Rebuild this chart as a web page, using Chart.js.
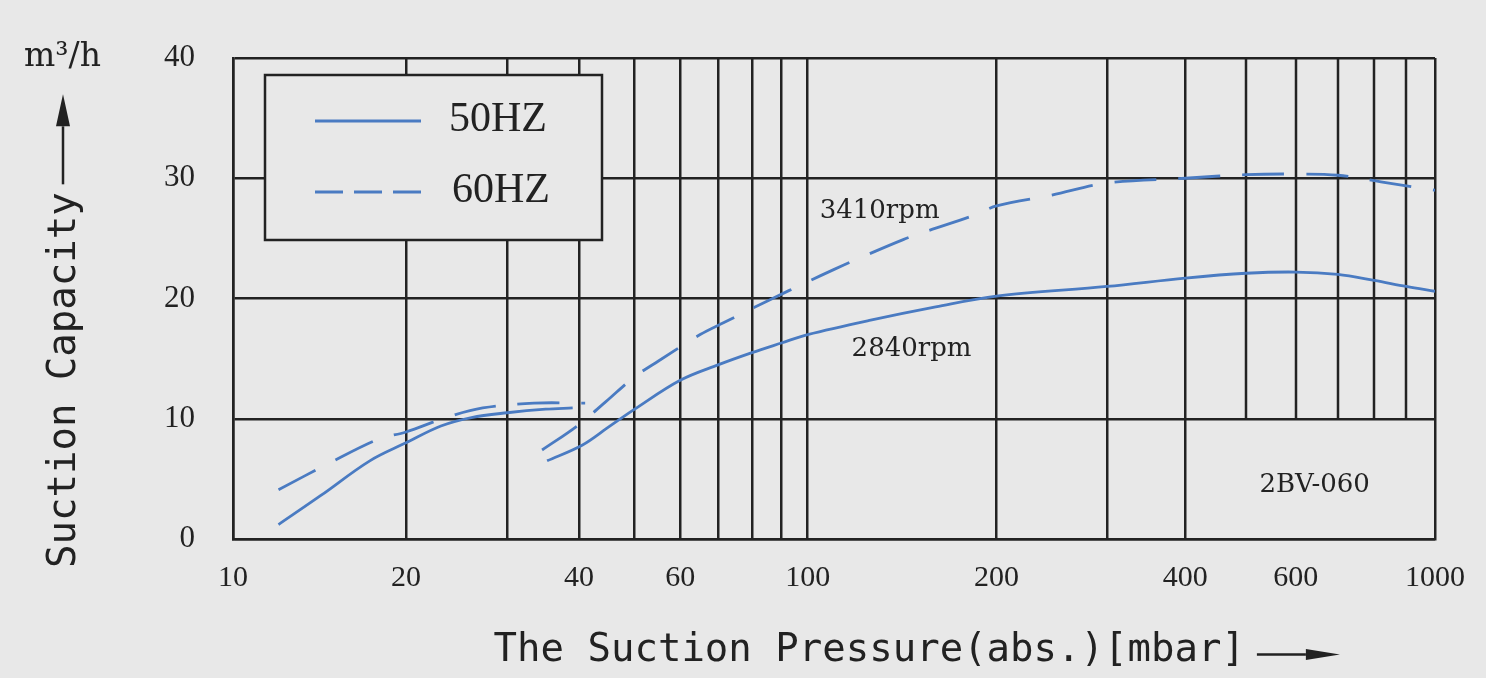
<!DOCTYPE html>
<html>
<head>
<meta charset="utf-8">
<script src="https://cdn.jsdelivr.net/npm/chart.js@4/dist/chart.umd.min.js"></script>
<style>
  html, body { margin: 0; padding: 0; background: #e8e8e8; overflow: hidden; }
  canvas { display: block; }
</style>
</head>
<body>
<canvas id="c" width="1486" height="678"></canvas>
<script>
// ---------------- data ----------------
// 50 HZ (solid) – low-pressure piece and main piece
const pressure50a = [12, 14.2, 17.3, 20, 23, 26, 30, 35, 39];
const capacity50a = [1.2, 3.6, 6.5, 8.0, 9.4, 10.1, 10.5, 10.8, 10.9];
const pressure50b = [35.2, 40.5, 45, 50, 60, 70, 80, 90, 100, 126, 160, 200, 300, 400, 500, 600, 700, 800, 900, 1000];
const capacity50b = [6.5, 7.8, 9.3, 10.8, 13.2, 14.5, 15.5, 16.3, 17.0, 18.2, 19.3, 20.2, 21.0, 21.7, 22.1, 22.2, 22.0, 21.5, 21.0, 20.6];
// 60 HZ (dashed)
const pressure60a = [12, 14.7, 17.9, 20, 23.5, 27.2, 33.4, 41];
const capacity60a = [4.1, 6.3, 8.3, 8.9, 10.1, 10.9, 11.3, 11.3];
const pressure60b = [34.5, 39.7, 44.5, 50, 55, 65, 71.5, 86, 100, 110, 119, 142, 155, 186, 200, 245, 300, 400, 500, 600, 700, 820, 1000];
const capacity60b = [7.4, 9.4, 11.4, 13.5, 14.8, 17.0, 18.0, 19.9, 21.4, 22.4, 23.2, 24.9, 25.6, 27.0, 27.7, 28.6, 29.6, 30.0, 30.3, 30.35, 30.25, 29.7, 29.0];

const seriesLabels = ['50HZ', '60HZ'];
const gridPressures = [10, 20, 30, 40, 50, 60, 70, 80, 90, 100, 200, 300, 400, 500, 600, 700, 800, 900, 1000];
const labelledPressures = [10, 20, 40, 60, 100, 200, 400, 600, 1000];
const partialGridPressures = [500, 600, 700, 800, 900];
const capacityTicks = [0, 10, 20, 30, 40];

const xTitle = 'The Suction Pressure(abs.)[mbar]';
const yTitle = 'Suction Capacity';
const unitLabel = 'm\u00B3/h';
const notes = [
  { text: '3410rpm', p: 104.5, q: 26.7 },
  { text: '2840rpm', p: 117.5, q: 15.25 },
  { text: '2BV-060', p: 525, q: 3.87 }
];

// ---------------- styles ----------------
const INK = '#222222';
const BLUE = '#4a7bc2';
const BG = '#e8e8e8';
const NBSP = '\u00A0';
const GRID_W = 2.5;

// The printed chart's decades are not equally wide: 10-100 uses ~47.8 % of the axis.
const decadeBounds = [10, 100, 1000];
const decadeShares = [0, 0.4781, 1];

const LogScale = Chart.LogarithmicScale || Chart.registry.getScale('logarithmic');
class SplitLogScale extends LogScale {
  getPixelForValue(value) {
    if (value === undefined || value === 0) value = this.min;
    if (value === null || isNaN(value)) return NaN;
    const lv = Math.log10(value);
    let i = 0;
    while (i < decadeBounds.length - 2 && lv > Math.log10(decadeBounds[i + 1])) i++;
    const l0 = Math.log10(decadeBounds[i]), l1 = Math.log10(decadeBounds[i + 1]);
    const dec = decadeShares[i] + (lv - l0) / (l1 - l0) * (decadeShares[i + 1] - decadeShares[i]);
    return this.getPixelForDecimal(dec);
  }
  getValueForPixel(pixel) {
    const d = this.getDecimalForPixel(pixel);
    let i = 0;
    while (i < decadeShares.length - 2 && d > decadeShares[i + 1]) i++;
    const l0 = Math.log10(decadeBounds[i]), l1 = Math.log10(decadeBounds[i + 1]);
    const lv = l0 + (d - decadeShares[i]) / (decadeShares[i + 1] - decadeShares[i]) * (l1 - l0);
    return Math.pow(10, lv);
  }
}
SplitLogScale.id = 'splitLog';
SplitLogScale.defaults = {};
Chart.register(SplitLogScale);

function joinSegments(pa, qa, pb, qb) {
  const out = pa.map((p, i) => ({ x: p, y: qa[i] }));
  out.push({ x: pb[0], y: null });
  return out.concat(pb.map((p, i) => ({ x: p, y: qb[i] })));
}

function arrow(ctx, x1, y1, x2, y2, head, halfW) {
  const ang = Math.atan2(y2 - y1, x2 - x1);
  const bx = x2 - head * Math.cos(ang), by = y2 - head * Math.sin(ang);
  ctx.beginPath(); ctx.moveTo(x1, y1); ctx.lineTo(bx, by); ctx.stroke();
  ctx.beginPath();
  ctx.moveTo(x2, y2);
  ctx.lineTo(bx + halfW * Math.sin(ang), by - halfW * Math.cos(ang));
  ctx.lineTo(bx - halfW * Math.sin(ang), by + halfW * Math.cos(ang));
  ctx.closePath(); ctx.fill();
}

const X_TITLE_FONT = { family: 'DejaVu Sans Mono', size: 39 };
const X_TITLE_PAD = 4;

const decor = {
  id: 'decor',
  beforeDraw(chart) {
    const { ctx, width, height } = chart;
    ctx.save(); ctx.fillStyle = BG; ctx.fillRect(0, 0, width, height); ctx.restore();
  },
  beforeDatasetsDraw(chart) {
    const { ctx, scales: { x, y } } = chart;
    ctx.save();
    ctx.strokeStyle = INK; ctx.lineWidth = GRID_W;
    partialGridPressures.forEach(p => {
      const px = Math.round(x.getPixelForValue(p));
      ctx.beginPath();
      ctx.moveTo(px, y.getPixelForValue(capacityTicks[4]));
      ctx.lineTo(px, y.getPixelForValue(capacityTicks[1]));
      ctx.stroke();
    });
    ctx.restore();
  },
  afterDatasetsDraw(chart) {
    const { ctx, chartArea: a, scales: { x, y } } = chart;
    ctx.save();
    // legend box
    const bx = a.left + 32, by = a.top + 17, bw = 337, bh = 165;
    ctx.fillStyle = BG; ctx.fillRect(bx, by, bw, bh);
    ctx.strokeStyle = INK; ctx.lineWidth = 2.5; ctx.strokeRect(bx, by, bw, bh);
    chart.data.datasets.forEach((ds, i) => {
      const rowY = by + 46 + i * 71;
      ctx.strokeStyle = ds.borderColor; ctx.lineWidth = ds.borderWidth;
      ctx.setLineDash(i ? [28, 11] : []);
      ctx.beginPath(); ctx.moveTo(bx + 50, rowY); ctx.lineTo(bx + 156, rowY); ctx.stroke();
      ctx.setLineDash([]);
      ctx.fillStyle = INK; ctx.font = '42px "Liberation Serif"';
      ctx.textAlign = 'left'; ctx.textBaseline = 'middle';
      ctx.fillText(ds.label, bx + 184 + i * 3, rowY - 1);
    });
    // annotations
    ctx.fillStyle = INK; ctx.font = '26px "DejaVu Serif"';
    ctx.textAlign = 'left'; ctx.textBaseline = 'alphabetic';
    notes.forEach(n => ctx.fillText(n.text, x.getPixelForValue(n.p), y.getPixelForValue(n.q)));
    ctx.restore();
  },
  afterDraw(chart) {
    const { ctx, scales: { x } } = chart;
    ctx.save();
    ctx.fillStyle = INK; ctx.strokeStyle = INK;
    // unit label
    ctx.font = '33px "DejaVu Serif"'; ctx.textAlign = 'left'; ctx.textBaseline = 'alphabetic';
    ctx.fillText(unitLabel, 24, 66);
    // y title rotated, with arrow
    ctx.font = '39px "DejaVu Sans Mono"';
    const w = ctx.measureText(yTitle).width;
    ctx.save();
    ctx.translate(75, 568); ctx.rotate(-Math.PI / 2);
    ctx.fillText(yTitle, 0, 0);
    ctx.restore();
    ctx.lineWidth = 2.5;
    arrow(ctx, 63, 568 - w - 8, 63, 568 - w - 98, 32, 7);
    // x title arrow (title itself is drawn by the x scale)
    ctx.font = X_TITLE_FONT.size + 'px "' + X_TITLE_FONT.family + '"';
    const full = ctx.measureText(NBSP + NBSP + NBSP + xTitle).width;
    const cx = (x.left + x.right) / 2;
    const end = cx + full / 2;
    const ty = x.bottom - X_TITLE_PAD - X_TITLE_FONT.size * 1.2 / 2 + 4;
    arrow(ctx, end + 12, ty, end + 95, ty, 34, 5.5);
    ctx.restore();
  }
};

new Chart(document.getElementById('c'), {
  type: 'line',
  data: {
    datasets: [
      {
        label: seriesLabels[0],
        data: joinSegments(pressure50a, capacity50a, pressure50b, capacity50b),
        borderColor: BLUE, borderWidth: 2.8, pointRadius: 0, tension: 0.35,
        fill: false, spanGaps: false
      },
      {
        label: seriesLabels[1],
        data: joinSegments(pressure60a, capacity60a, pressure60b, capacity60b),
        borderColor: BLUE, borderWidth: 2.8, borderDash: [42, 22], pointRadius: 0, tension: 0.35,
        fill: false, spanGaps: false
      }
    ]
  },
  options: {
    responsive: false,
    animation: false,
    devicePixelRatio: 1,
    events: [],
    layout: { padding: { left: 0, top: 58, right: 50, bottom: 0 } },
    plugins: { legend: { display: false }, tooltip: { enabled: false } },
    scales: {
      x: {
        type: 'splitLog',
        min: 10, max: 1000,
        afterBuildTicks: s => { s.ticks = gridPressures.map(v => ({ value: v })); },
        afterFit: s => { s.height = 139; },
        ticks: {
          autoSkip: false, maxRotation: 0, minRotation: 0, padding: 21, color: INK,
          font: { family: 'Liberation Serif', size: 30 },
          callback: v => labelledPressures.includes(v) ? String(v) : ''
        },
        grid: {
          color: c => (c.tick && partialGridPressures.includes(c.tick.value)) ? 'rgba(0,0,0,0)' : INK,
          lineWidth: GRID_W, drawTicks: false
        },
        border: { color: INK, width: GRID_W },
        title: {
          display: true, text: NBSP + NBSP + NBSP + xTitle, color: INK,
          font: X_TITLE_FONT, padding: { top: 0, bottom: X_TITLE_PAD }
        }
      },
      y: {
        min: 0, max: 40,
        afterBuildTicks: s => { s.ticks = capacityTicks.map(v => ({ value: v })); },
        afterFit: s => { s.width = 233; },
        ticks: {
          padding: 38, color: INK,
          font: { family: 'Liberation Serif', size: 31 }
        },
        grid: { color: INK, lineWidth: GRID_W, drawTicks: false },
        border: { color: INK, width: GRID_W }
      }
    }
  },
  plugins: [decor]
});
</script>
</body>
</html>
